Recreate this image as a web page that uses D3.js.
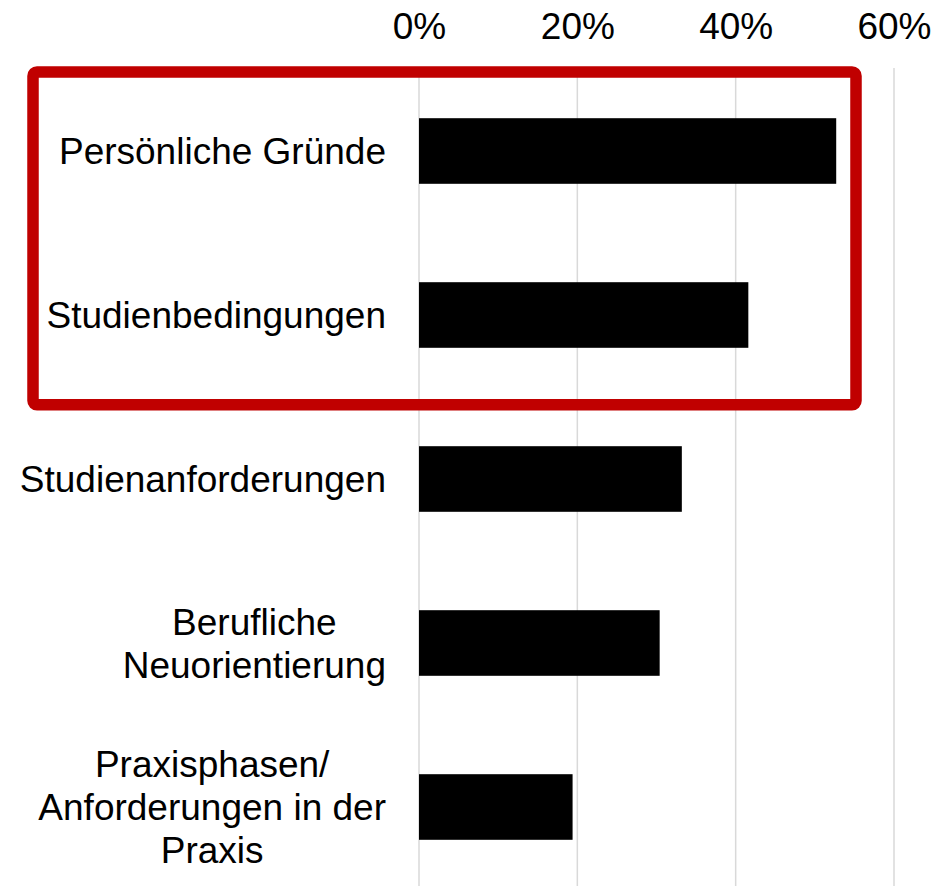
<!DOCTYPE html>
<html>
<head>
<meta charset="utf-8">
<script src="https://cdn.jsdelivr.net/npm/d3@7"></script>
<style>
  body { margin: 0; background: #fff; }
  text { font-family: "Liberation Sans", Arial, sans-serif; fill: #000; }
</style>
</head>
<body>
<script>
// Chart data
var categories = [
  ["Persönliche Gründe"],
  ["Studienbedingungen"],
  ["Studienanforderungen"],
  ["Berufliche", "Neuorientierung"],
  ["Praxisphasen/", "Anforderungen in der", "Praxis"]
];
var values = [52.7, 41.6, 33.2, 30.4, 19.4];
var tickValues = [0, 20, 40, 60];
var highlighted = [0, 1]; // categories inside the red box

var svgWidth = 937;
var svgHeight = 886;
var fontSize = 37;

var svg = d3.select("body")
  .append("svg")
  .attr("width", svgWidth)
  .attr("height", svgHeight);

var keys = categories.map(function(c) { return c.join(" "); });

var x = d3.scaleLinear()
  .domain([0, 60])
  .range([419, 894]);

var y = d3.scaleBand()
  .domain(keys)
  .range([69, 889])
  .paddingInner(0.6)
  .paddingOuter(0.3);

// gridlines
svg.append("g")
  .selectAll("line")
  .data(tickValues)
  .join("line")
  .attr("x1", d => x(d))
  .attr("x2", d => x(d))
  .attr("y1", 68)
  .attr("y2", svgHeight)
  .attr("stroke", "#d9d9d9")
  .attr("stroke-width", 1.5);

// top axis labels
var topAxis = d3.axisTop(x)
  .tickValues(tickValues)
  .tickSize(0)
  .tickPadding(0)
  .tickFormat(d => d + "%");

var axisG = svg.append("g")
  .attr("transform", "translate(0, 39)")
  .call(topAxis);
axisG.select(".domain").remove();
axisG.selectAll("text")
  .attr("dy", 0)
  .style("font-size", fontSize + "px")
  .style("font-family", "'Liberation Sans', Arial, sans-serif");

// bars
svg.append("g")
  .selectAll("rect")
  .data(values)
  .join("rect")
  .attr("x", x(0))
  .attr("y", (d, i) => y(keys[i]))
  .attr("width", d => x(d) - x(0))
  .attr("height", y.bandwidth())
  .attr("fill", "#000");

// category labels (centered block, right edge at 386)
var lineHeight = 43;
var labelRight = 386;
categories.forEach(function(lines, i) {
  var cy = y(keys[i]) + y.bandwidth() / 2;
  var t = svg.append("text")
    .attr("text-anchor", "middle")
    .style("font-size", fontSize + "px");
  lines.forEach(function(line, j) {
    t.append("tspan")
      .attr("x", 0)
      .attr("y", cy + (j - (lines.length - 1) / 2) * lineHeight + fontSize * 0.36)
      .text(line);
  });
  var maxW = d3.max(t.selectAll("tspan").nodes(), n => n.getComputedTextLength());
  t.selectAll("tspan").attr("x", labelRight - maxW / 2);
});

// red highlight box
var first = y(keys[highlighted[0]]);
var last = y(keys[highlighted[highlighted.length - 1]]) + y.bandwidth();
svg.append("rect")
  .attr("x", 33)
  .attr("y", 72)
  .attr("width", 823)
  .attr("height", (last + 57) - 72)
  .attr("rx", 4)
  .attr("fill", "none")
  .attr("stroke", "#c00000")
  .attr("stroke-width", 11.5);
</script>
</body>
</html>
